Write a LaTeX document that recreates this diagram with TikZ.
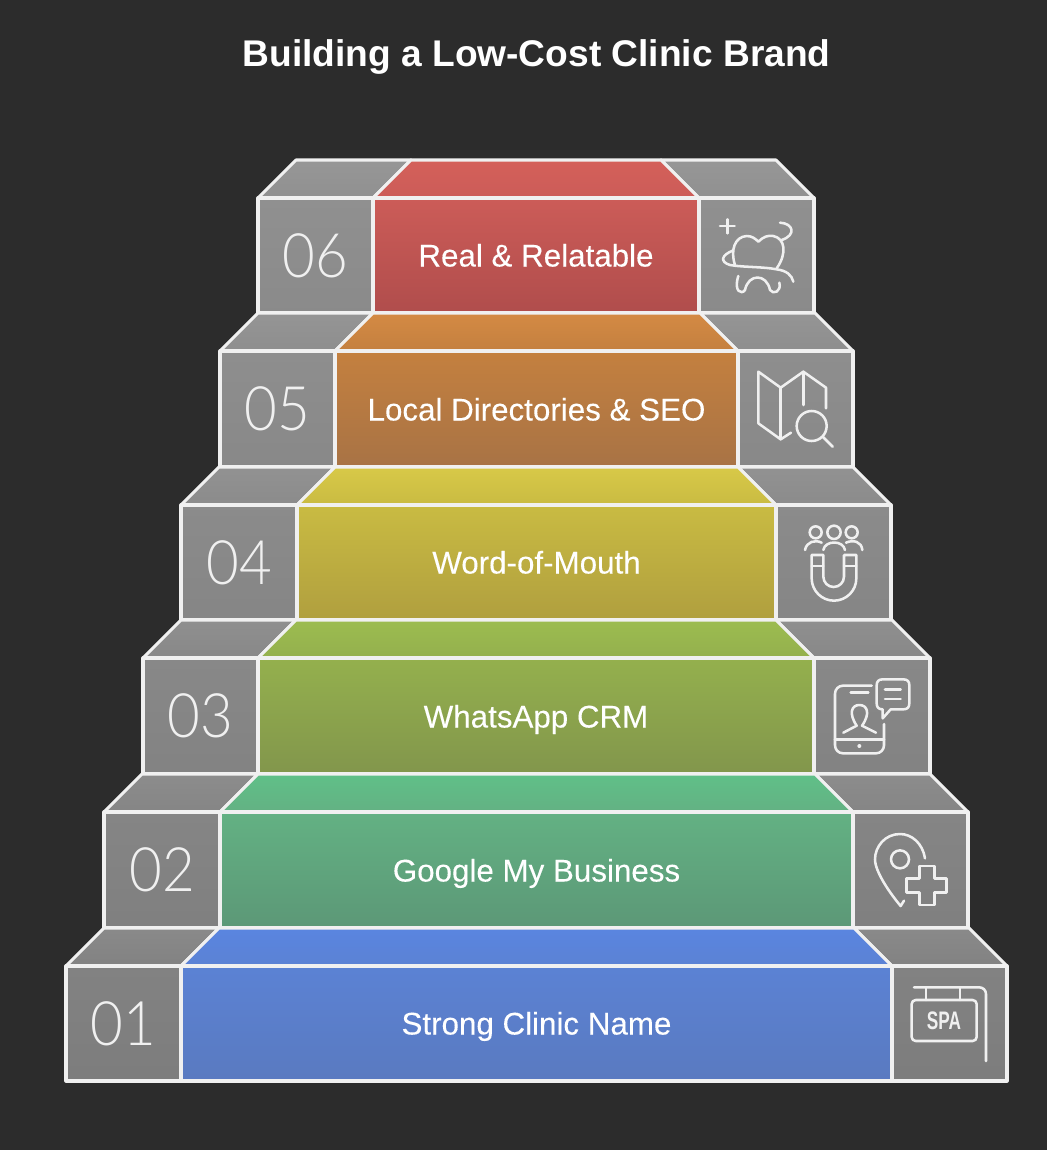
\documentclass[tikz,border=0pt]{standalone}
\usepackage{fontspec}
\setmainfont{Liberation Sans}
\newfontfamily\thinfont{Lato Light}
\definecolor{bgc}{HTML}{2C2C2C}
\definecolor{edge}{HTML}{F0F0F0}
\tikzset{
  face/.style={draw=edge,line width=2.3pt,line join=round},
  icon/.style={draw=edge,line width=1.9pt,line cap=round,line join=round},
  steplabel/.style={text=white,anchor=base,font=\addfontfeature{FakeBold=0.15}\fontsize{23.5pt}{28pt}\selectfont},
  numlabel/.style={text=edge,font=\thinfont\fontsize{46pt}{56pt}\selectfont},
  zoomed/.style={x=0.25pt,y=-0.25pt}
}
\newcommand{\stair}[9]{%
  \def\yb{\the\numexpr#5-38\relax}%
  \path[face,top color=#9!94!white,bottom color=#9] (#1+38,\yb) -- (#2+38,\yb) -- (#2,#5) -- (#1,#5) -- cycle;
  \path[face,top color=#9!94!white,bottom color=#9] (#3-38,\yb) -- (#4-38,\yb) -- (#4,#5) -- (#3,#5) -- cycle;
  \path[face,top color=#9,bottom color=#9!96!black] (#1,#5) rectangle (#2,#6);
  \path[face,top color=#9,bottom color=#9!96!black] (#3,#5) rectangle (#4,#6);
  \path[face,top color=\cA,bottom color=\cB] (#2+38,\yb) -- (#3-38,\yb) -- (#3,#5) -- (#2,#5) -- cycle;
  \path[face,top color=\cB,bottom color=\cC] (#2,#5) rectangle (#3,#6);
  \node[numlabel] (num#7) at ({(#1+#2)/2},{(#5+#6)/2}) {\scalebox{.92}[1]{#7}};
  \node[steplabel] (lab#7) at ({(#2+#3)/2},{#6-46.5}) {#8};
}
\begin{document}
\begin{tikzpicture}[x=0.75pt,y=-0.75pt]
\fill[bgc] (0,0) rectangle (1047,1150);
\useasboundingbox (0,0) rectangle (1047,1150);
\node[text=white,anchor=base,font=\bfseries\fontsize{27.85pt}{34pt}\selectfont] (title) at (536.5,66) {Building a Low-Cost Clinic Brand};

% step 06
\definecolor{c1}{HTML}{D4605A}\definecolor{c2}{HTML}{CC5C58}\definecolor{c3}{HTML}{B04D4C}
\def\cA{c1}\def\cB{c2}\def\cC{c3}\definecolor{g6}{HTML}{909090}
\stair{258}{373}{699}{814}{198}{313}{06}{Real \& Relatable}{g6}
% step 05
\definecolor{d1}{HTML}{D48A44}\definecolor{d2}{HTML}{C4803F}\definecolor{d3}{HTML}{A87345}
\def\cA{d1}\def\cB{d2}\def\cC{d3}\definecolor{g5}{HTML}{8E8E8E}
\stair{220}{335}{738}{853}{351}{467}{05}{Local Directories \& SEO}{g5}
% step 04
\definecolor{e1}{HTML}{D8C948}\definecolor{e2}{HTML}{C9BB42}\definecolor{e3}{HTML}{B09F3F}
\def\cA{e1}\def\cB{e2}\def\cC{e3}\definecolor{g4}{HTML}{8B8B8B}
\stair{181}{297}{776}{891}{505}{620}{04}{Word-of-Mouth}{g4}
% step 03
\definecolor{f1}{HTML}{9CBC50}\definecolor{f2}{HTML}{94B04D}\definecolor{f3}{HTML}{82964C}
\def\cA{f1}\def\cB{f2}\def\cC{f3}\definecolor{g3}{HTML}{888888}
\stair{143}{258}{814}{930}{658}{774}{03}{WhatsApp CRM}{g3}
% step 02
\definecolor{h1}{HTML}{60C088}\definecolor{h2}{HTML}{63B183}\definecolor{h3}{HTML}{5C9877}
\def\cA{h1}\def\cB{h2}\def\cC{h3}\definecolor{g2}{HTML}{858585}
\stair{104}{220}{853}{968}{812}{928}{02}{Google My Business}{g2}
% step 01
\definecolor{k1}{HTML}{5A85E0}\definecolor{k2}{HTML}{5B82D4}\definecolor{k3}{HTML}{5A7AC0}
\def\cA{k1}\def\cB{k2}\def\cC{k3}\definecolor{g1}{HTML}{828282}
\stair{66}{181}{892}{1007}{966}{1081}{01}{Strong Clinic Name}{g1}

% tooth and map icons
\begin{scope}[shift={(680,150)},zoomed]
  \draw[icon] (142,208) -- (142,250) (120,228) -- (164,228);
  \draw[icon] (165,345) .. controls (150,300) and (165,260) .. (200,258) .. controls (215,258) and (225,265) .. (235,275) .. controls (250,260) and (265,255) .. (280,258) .. controls (315,265) and (322,310) .. (290,355);
  \draw[icon] (300,218) .. controls (340,220) and (350,255) .. (305,270);
  \draw[icon] (158,302) .. controls (125,315) and (118,335) .. (150,345) .. controls (190,352) and (250,350) .. (290,358) .. controls (320,362) and (335,375) .. (340,395);
  \draw[icon] (175,378) .. controls (160,425) and (185,435) .. (195,420) .. controls (205,370) and (260,370) .. (270,420) .. controls (280,435) and (305,425) .. (298,398);
  \draw[icon] (333,848) -- (302,868) -- (235,820) -- (235,665) -- (302,713) -- (370,665) -- (438,713) -- (438,775);
  \draw[icon] (370,665) -- (370,765) (302,713) -- (302,868);
  \draw[icon] (395,828) circle[radius=45];
  \draw[icon] (428,860) -- (458,890);
\end{scope}
% magnet and phone icons
\begin{scope}[shift={(760,500)},zoomed]
  \draw[icon] (167,97) circle[radius=18] (222,97) circle[radius=20] (275,97) circle[radius=18];
  \draw[icon] (135,150) .. controls (140,125) and (165,118) .. (185,128);
  \draw[icon] (190,150) .. controls (195,120) and (250,120) .. (255,150);
  \draw[icon] (258,128) .. controls (280,118) and (305,125) .. (307,150);
  \draw[icon] (155,165) -- (155,235) arc[start angle=180,end angle=0,radius=67] -- (289,165) -- (252,165) -- (252,230) arc[start angle=0,end angle=180,radius=31] -- (190,165) -- cycle;
  \draw[icon] (155,198) -- (190,198) (252,198) -- (289,198);
  \draw[icon,rounded corners=6pt] (335,557) -- (225,557) -- (225,760) -- (372,760) -- (372,672);
  \draw[icon] (225,718) -- (372,718) (272,577) -- (325,577);
  \fill[edge] (298,738) circle[radius=6];
  \draw[icon] (250,698) -- (290,677) .. controls (265,640) and (275,615) .. (298,615) .. controls (322,615) and (332,640) .. (306,677) -- (348,698);
  \draw[icon] (368,655) -- (368,628) .. controls (356,628) and (350,622) .. (350,610) -- (350,556) .. controls (350,544) and (356,538) .. (368,538) -- (430,538) .. controls (442,538) and (448,544) .. (448,556) -- (448,610) .. controls (448,622) and (442,628) .. (430,628) -- (392,628) -- cycle;
  \draw[icon] (375,568) -- (422,568) (375,597) -- (422,597);
\end{scope}
% pin and sign icons
\begin{scope}[shift={(840,800)},zoomed]
  \draw[icon] (255,175) .. controls (248,130) and (215,102) .. (180,102) .. controls (135,102) and (105,140) .. (105,178) .. controls (105,215) and (150,280) .. (182,318) -- (192,302);
  \draw[icon] (180,178) circle[radius=27];
  \draw[icon] (238,198) -- (283,198) -- (283,235) -- (320,235) -- (320,278) -- (283,278) -- (283,315) -- (238,315) -- (238,278) -- (200,278) -- (200,235) -- (238,235) -- cycle;
  \draw[icon,rounded corners=5pt] (222,562) -- (438,562) -- (438,783);
  \draw[icon] (258,562) -- (258,600) (360,562) -- (360,600);
  \draw[icon,rounded corners=3pt] (215,600) rectangle (410,723);
  \node[text=edge,font=\bfseries\fontsize{19pt}{22pt}\selectfont] (spa) at (312,663) {\scalebox{.68}[1]{SPA}};
\end{scope}
\end{tikzpicture}
\end{document}
